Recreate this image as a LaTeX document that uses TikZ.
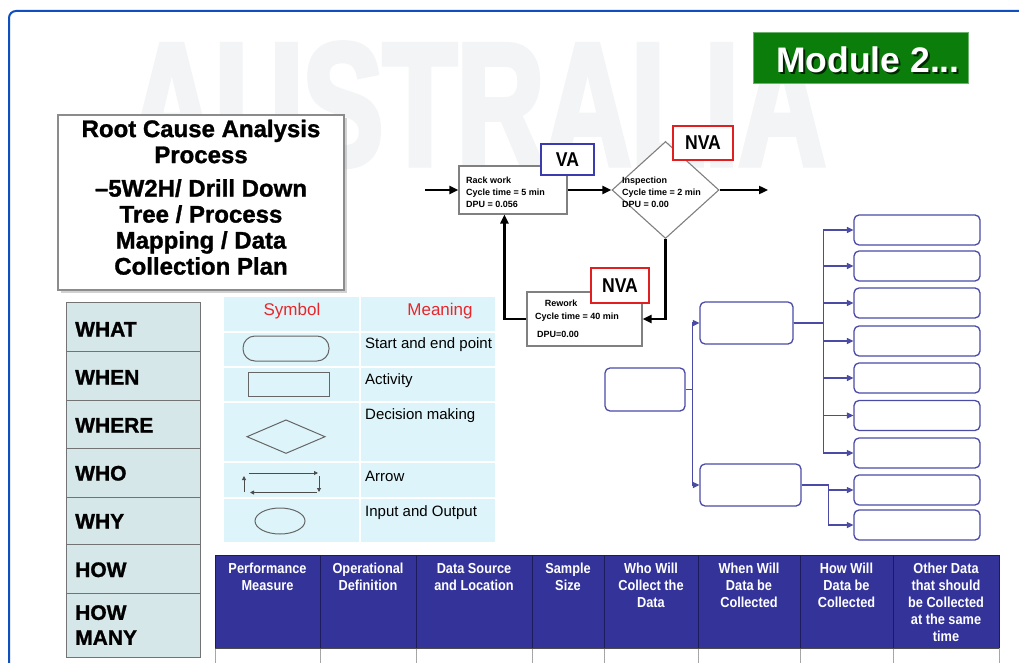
\documentclass[tikz,border=0pt]{standalone}
\usepackage{fontspec}
\setmainfont{Liberation Sans}
\newfontfamily\condfont[FakeStretch=0.88]{Liberation Sans}
\newfontfamily\wmfont[FakeStretch=0.69,FakeBold=3]{Liberation Sans Bold}
\newfontfamily\heavyfont[FakeBold=1.2]{Liberation Sans Bold}
\usetikzlibrary{arrows.meta,shapes.geometric,shadows}
\definecolor{frameblue}{HTML}{0F4FBF}
\definecolor{modgreen}{HTML}{0A7D0A}
\definecolor{wmgray}{HTML}{F2F4F6}
\definecolor{whfill}{HTML}{D5E7E9}
\definecolor{symfill}{HTML}{DDF5FA}
\definecolor{symred}{HTML}{E8262B}
\definecolor{nvared}{HTML}{E02020}
\definecolor{vablue}{HTML}{3B3BB0}
\definecolor{treeblue}{HTML}{4B4BA6}
\definecolor{hdrblue}{HTML}{333399}
\definecolor{hdrdark}{HTML}{1C1C5C}
\tikzset{
  procbox/.style={draw=black!50, line width=1.1pt, fill=white, inner sep=0},
  tagbox/.style={line width=1.6pt, fill=white, inner sep=0},
  tagtxt/.style={anchor=base, inner sep=0, font=\condfont\bfseries\fontsize{20}{22}\selectfont},
  smalltxt/.style={anchor=north west, inner sep=0, align=left, font=\bfseries\fontsize{9}{12}\selectfont},
  procarrow/.style={line width=2.5pt, -{Triangle[length=9pt,width=8pt]}},
  treebox/.style={draw=treeblue, line width=1.3pt, rounded corners=5pt, fill=white, inner sep=0},
  treearrow/.style={draw=treeblue, line width=1.3pt, -{Triangle[length=6.5pt,width=6pt]}},
  whtxt/.style={anchor=base west, inner sep=0, font=\heavyfont\fontsize{21}{25}\selectfont},
  meantxt/.style={anchor=base west, inner sep=0, font=\fontsize{15}{18}\selectfont},
  symhead/.style={anchor=base, inner sep=0, text=symred, font=\fontsize{17}{20}\selectfont},
  hdrtxt/.style={anchor=north, inner sep=0, align=center, text=white, font=\condfont\bfseries\fontsize{14.5}{17}\selectfont},
  symline/.style={draw=black!60, line width=1pt},
  symarrow/.style={draw=black!70, line width=0.9pt, -{Triangle[length=4pt,width=4pt]}}
}
\begin{document}
\begin{tikzpicture}[x=1pt,y=-1pt]
\useasboundingbox (0,0) rectangle (1019,663);
\clip (0,0) rectangle (1019,663);
\fill[white] (0,0) rectangle (1019,663);

% watermark
\node[anchor=base, inner sep=0, text=wmgray, font=\wmfont\fontsize{175}{175}\selectfont] (wm) at (477,165) {AUSTRALIA};

% frame
\draw[frameblue, line width=2pt, rounded corners=7pt] (1040,11) -- (9,11) -- (9,700);

% Module label
\node[fill=modgreen, draw=modgreen!60!white, line width=0.8pt, minimum width=215, minimum height=51, inner sep=0] (mod) at (860.5,57.5) {};
\node[anchor=base, inner sep=0, text=black!70!modgreen, font=\bfseries\fontsize{35.5}{38}\selectfont] (modsh) at (870,75) {Module 2...};
\node[anchor=base, inner sep=0, text=white, font=\bfseries\fontsize{35.5}{38}\selectfont] (modt) at (868,73) {Module 2...};

% title box
\node[draw=black!45, line width=1.2pt, fill=white, minimum width=286, minimum height=175, inner sep=0,
      drop shadow={shadow xshift=3pt, shadow yshift=-3pt, opacity=0.35}] (title) at (201,202.5) {};
\node[anchor=north, inner sep=0, align=center, font=\heavyfont\fontsize{24}{26}\selectfont] (ttl) at (201,119.5)
  {Root Cause Analysis\\Process\\[7.5pt]–5W2H/ Drill Down\\Tree / Process\\Mapping / Data\\Collection Plan};

% WH table
\fill[whfill] (66,302) rectangle (200,657);
\draw[black!55, line width=1pt] (66,302) rectangle (200,657);
\foreach \yy in {351,400,448,497,544,593} {\draw[black!55, line width=1pt] (66,\yy) -- (200,\yy);}
\node[whtxt] (w1) at (75,336.5) {WHAT};
\node[whtxt] (w2) at (75,384.5) {WHEN};
\node[whtxt] (w3) at (75,432.5) {WHERE};
\node[whtxt] (w4) at (75,480.5) {WHO};
\node[whtxt] (w5) at (75,528.5) {WHY};
\node[whtxt] (w6) at (75,577) {HOW};
\node[anchor=north west, inner sep=0, align=left, font=\heavyfont\fontsize{21}{25}\selectfont] (w7) at (75,605) {HOW\\MANY};

% symbol table
\fill[symfill] (224,297) rectangle (495,542);
\foreach \yy in {332,367,402,462,498} {\draw[white, line width=1.2pt] (224,\yy) -- (495,\yy);}
\draw[white, line width=1.2pt] (360,297) -- (360,542);
\node[symhead] (sh1) at (292,315) {Symbol};
\node[symhead] (sh2) at (440,315) {Meaning};
\draw[symline, rounded corners=12pt] (243,336) rectangle (329,361);
\draw[symline] (248,372) rectangle (329,396);
\draw[symline] (247,436.7) -- (286,420) -- (325,436.7) -- (286,453.3) -- cycle;
\draw[symarrow] (244,492) -- (244,476);
\draw[symarrow] (249,473) -- (318,473);
\draw[symarrow] (319,476) -- (319,492);
\draw[symarrow] (317,492.5) -- (250,492.5);
\draw[symline] (280,521) ellipse [x radius=25, y radius=13];
\node[meantxt] (m1t) at (365,348) {Start and end point};
\node[meantxt] (m2t) at (365,384) {Activity};
\node[meantxt] (m3t) at (365,419) {Decision making};
\node[meantxt] (m4t) at (365,481) {Arrow};
\node[meantxt] (m5t) at (365,516) {Input and Output};

% process map
\node[procbox, minimum width=108, minimum height=48] (rack) at (513,190) {};
\node[smalltxt] (rkt) at (466,176.5) {Rack work\\Cycle time = 5 min\\DPU = 0.056};
\node[procbox, shape=diamond, minimum width=107, minimum height=97] (insp) at (665.5,190) {};
\node[smalltxt] (int) at (622,176.5) {Inspection\\Cycle time = 2 min\\DPU = 0.00};
\node[procbox, minimum width=115, minimum height=54] (rew) at (584.5,319) {};
\node[anchor=base, inner sep=0, font=\bfseries\fontsize{9}{12}\selectfont] (rw1) at (561,306) {Rework};
\node[anchor=base west, inner sep=0, font=\bfseries\fontsize{9}{12}\selectfont] (rw2) at (535,319) {Cycle time = 40 min};
\node[anchor=base west, inner sep=0, font=\bfseries\fontsize{9}{12}\selectfont] (rw3) at (537,337.5) {DPU=0.00};

\node[tagbox, draw=vablue, minimum width=53, minimum height=31] (va) at (567.5,159.5) {};
\node[tagtxt] (vat) at (567.5,167) {VA};
\node[tagbox, draw=nvared, minimum width=60, minimum height=34] (nva1) at (703,143) {};
\node[tagtxt] (nva1t) at (703,150) {NVA};
\node[tagbox, draw=nvared, minimum width=58, minimum height=35] (nva2) at (620,285.5) {};
\node[tagtxt] (nva2t) at (620,292) {NVA};

\coordinate (inL) at (425,190);
\coordinate (outR) at (768,190);
\path (rack.south west) ++(46,0) coordinate (rackin);
\draw[procarrow] (inL) -- (rack.west);
\draw[procarrow] (rack.east) -- (insp.west);
\draw[procarrow] (insp.east) -- (outR);
\draw[procarrow] (insp.south) |- (rew.east);
\draw[procarrow] (rew.west) -| (rackin);

% drill-down tree
\node[treebox, minimum width=80, minimum height=43] (rt) at (645,389.5) {};
\node[treebox, minimum width=93, minimum height=42] (mA) at (746.5,323) {};
\node[treebox, minimum width=101, minimum height=42] (mB) at (750.5,485) {};
\draw[treeblue, line width=1.3pt] (rt.east) -- ++(7,0) coordinate (rj);
\draw[treearrow] (rj) |- (mA.west);
\draw[treearrow] (rj) |- (mB.west);
\foreach \i/\yy in {1/230,2/266,3/303,4/341,5/378,6/415.5,7/453} {
  \node[treebox, minimum width=126, minimum height=30] (r\i) at (917,\yy) {};
  \draw[treearrow] (mA.east) -- ++(30,0) |- (r\i.west);
}
\foreach \i/\yy in {8/490,9/525} {
  \node[treebox, minimum width=126, minimum height=30] (r\i) at (917,\yy) {};
  \draw[treearrow] (mB.east) -- ++(27,0) |- (r\i.west);
}

% data collection plan table
\fill[hdrblue] (215,555) rectangle (999,648);
\draw[hdrdark, line width=1pt] (215,555) rectangle (999,648);
\foreach \xx in {320,416,532,604,698,800,893} {\draw[hdrdark, line width=1pt] (\xx,555) -- (\xx,648);}
\foreach \xx in {215,320,416,532,604,698,800,893,999} {\draw[black!35, line width=0.8pt] (\xx,648) -- (\xx,663);}
\draw[black!70, line width=1.5pt] (215,648.5) -- (999,648.5);
\node[hdrtxt] (h1) at (267.5,562.5) {Performance\\Measure};
\node[hdrtxt] (h2) at (368,562.5) {Operational\\Definition};
\node[hdrtxt] (h3) at (474,563.5) {Data Source\\and Location};
\node[hdrtxt] (h4) at (568,562.5) {Sample\\Size};
\node[hdrtxt] (h5) at (651,562.5) {Who Will\\Collect the\\Data};
\node[hdrtxt] (h6) at (749,562.5) {When Will\\Data be\\Collected};
\node[hdrtxt] (h7) at (846.5,562.5) {How Will\\Data be\\Collected};
\node[hdrtxt] (h8) at (946,562.5) {Other Data\\that should\\be Collected\\at the same\\time};
\end{tikzpicture}
\end{document}
